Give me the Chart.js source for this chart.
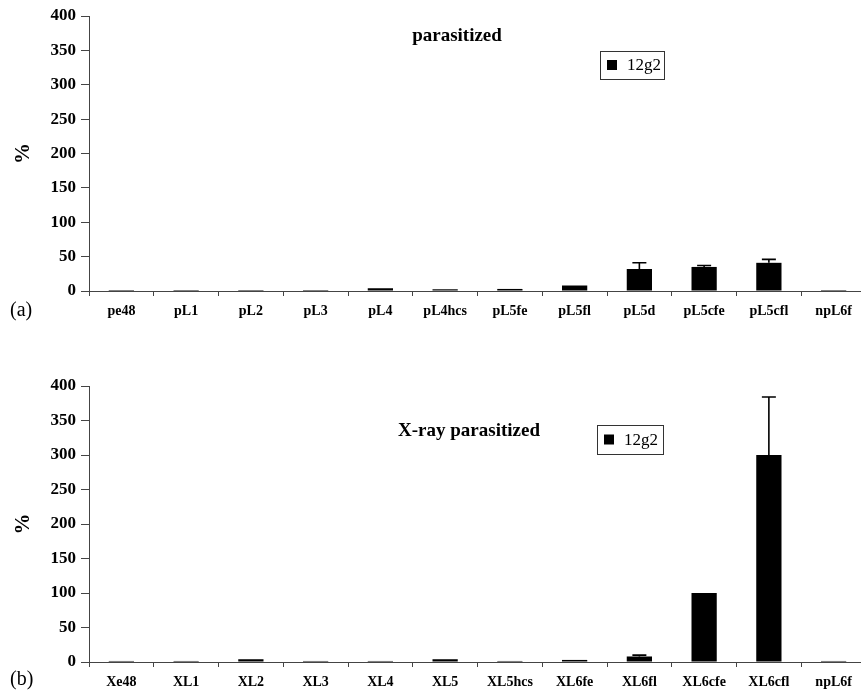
<!DOCTYPE html>
<html><head><meta charset="utf-8">
<script src="https://cdn.jsdelivr.net/npm/chart.js@4"></script>
<style>
html,body{margin:0;padding:0;background:#fff;overflow:hidden;width:861px;height:691px;}
#ca{position:absolute;left:0;top:0;}
#cb{position:absolute;left:0;top:345px;}
</style></head><body>
<canvas id="ca" width="866" height="345"></canvas>
<canvas id="cb" width="866" height="346"></canvas>
<script>
// ---- data ----
const seriesName = '12g2';
const yTicks = [0, 50, 100, 150, 200, 250, 300, 350, 400];

const catsA = ['pe48','pL1','pL2','pL3','pL4','pL4hcs','pL5fe','pL5fl','pL5d','pL5cfe','pL5cfl','npL6f'];
const valsA = [1.5, 1.5, 1.5, 1.5, 4, 2.5, 3, 8, 32, 35, 41, 1.5];
const errA  = [0, 0, 0, 0, 0, 0, 0, 0, 9, 2, 5, 0];

const catsB = ['Xe48','XL1','XL2','XL3','XL4','XL5','XL5hcs','XL6fe','XL6fl','XL6cfe','XL6cfl','npL6f'];
const valsB = [1.5, 1.5, 4, 1.5, 1.5, 4, 1.5, 3, 8, 100, 300, 1.5];
const errB  = [0, 0, 0, 0, 0, 0, 0, 0, 2, 0, 84, 0];

const titleA = 'parasitized';
const titleB = 'X-ray parasitized';
const panelA = '(a)';
const panelB = '(b)';

const SERIF = '"Liberation Serif", "DejaVu Serif", serif';

const extras = {
  id: 'extras',
  afterDatasetsDraw(chart, args, o) {
    const ctx = chart.ctx;
    const meta = chart.getDatasetMeta(0);
    const ys = chart.scales.y;
    const vals = chart.data.datasets[0].data;
    ctx.save();
    ctx.strokeStyle = '#000';
    ctx.lineWidth = 1.6;
    o.errors.forEach((e, i) => {
      if (!e) return;
      const bx = meta.data[i].x;
      const y0 = ys.getPixelForValue(vals[i]);
      const y1 = ys.getPixelForValue(vals[i] + e);
      ctx.beginPath();
      ctx.moveTo(bx, y0); ctx.lineTo(bx, y1);
      ctx.moveTo(bx - 7, y1); ctx.lineTo(bx + 7, y1);
      ctx.stroke();
    });
    ctx.restore();
  },
  afterDraw(chart, args, o) {
    const ctx = chart.ctx;
    ctx.save();
    ctx.fillStyle = '#000';
    ctx.font = 'bold 19px ' + SERIF;
    ctx.textAlign = 'center';
    ctx.textBaseline = 'alphabetic';
    ctx.fillText(o.title, o.titleX, o.titleY);
    const L = o.legend;
    ctx.strokeStyle = '#333';
    ctx.lineWidth = 1;
    ctx.strokeRect(L.x + 0.5, L.y + 0.5, L.w, L.h);
    ctx.fillRect(L.x + 7, L.y + L.h / 2 - 5, 10, 10);
    ctx.font = '17px ' + SERIF;
    ctx.textAlign = 'left';
    ctx.textBaseline = 'middle';
    ctx.fillText(seriesName, L.x + 27, L.y + L.h / 2 + 1);
    ctx.font = '20px ' + SERIF;
    ctx.textBaseline = 'alphabetic';
    ctx.fillText(o.panel, o.panelX, o.panelY);
    ctx.restore();
  }
};

function makeChart(id, cats, vals, errs, title, panel, g) {
  return new Chart(document.getElementById(id), {
    type: 'bar',
    data: {
      labels: cats,
      datasets: [{
        label: seriesName,
        data: vals,
        backgroundColor: '#000',
        borderWidth: 0,
        categoryPercentage: 1.0,
        barPercentage: 0.39
      }]
    },
    options: {
      responsive: false,
      animation: false,
      devicePixelRatio: 1,
      layout: { padding: { top: g.padTop, left: 0, right: 0, bottom: 0 } },
      plugins: {
        legend: { display: false },
        tooltip: { enabled: false },
        extras: {
          errors: errs, title: title, titleX: g.titleX, titleY: g.titleY,
          legend: g.legend, panel: panel, panelX: g.panelX, panelY: g.panelY
        }
      },
      scales: {
        x: {
          offset: true,
          grid: { display: true, drawOnChartArea: false, drawTicks: true, tickLength: 5, color: '#444', offset: true },
          border: { display: true, color: '#444', width: 1 },
          ticks: { color: '#000', font: { family: SERIF, size: 14, weight: 'bold' }, padding: 7, maxRotation: 0, autoSkip: false },
          afterFit(s) { s.height = g.xH; }
        },
        y: {
          min: 0, max: 400,
          afterBuildTicks(s) { s.ticks = yTicks.map(v => ({ value: v })); },
          grid: { display: true, drawOnChartArea: false, drawTicks: true, tickLength: 8, color: '#444' },
          border: { display: true, color: '#444', width: 1 },
          ticks: { color: '#000', font: { family: SERIF, size: 17, weight: 'bold' }, padding: 5 },
          title: { display: true, text: '%', color: '#000', font: { family: SERIF, size: 21, weight: 'bold' }, padding: { top: 11, bottom: 0 } },
          afterFit(s) { s.width = 89; }
        }
      }
    },
    plugins: [extras]
  });
}

makeChart('ca', catsA, valsA, errA, titleA, panelA, {
  padTop: 16, xH: 54,
  titleX: 457, titleY: 41,
  legend: { x: 600, y: 51, w: 64, h: 28 },
  panelX: 10, panelY: 316
});
makeChart('cb', catsB, valsB, errB, titleB, panelB, {
  padTop: 41, xH: 29,
  titleX: 469, titleY: 91,
  legend: { x: 597, y: 80, w: 66, h: 29 },
  panelX: 10, panelY: 340
});
</script>
</body></html>
